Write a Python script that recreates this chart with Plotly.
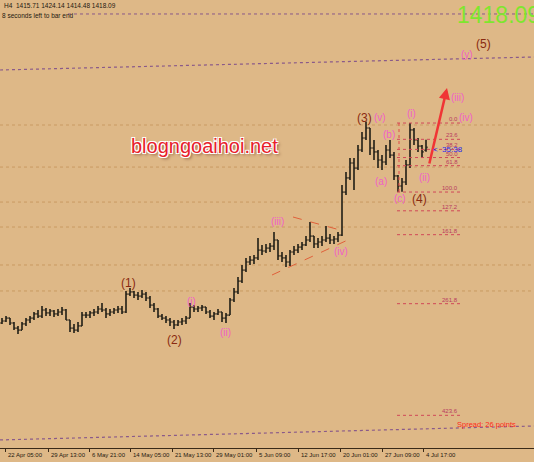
import plotly.graph_objects as go

# ---------------- data (H4 gold, aggregated bars) ----------------
header_o, header_h, header_l, header_c = 1415.71, 1424.14, 1414.48, 1418.09

highs = [1280.0,1281.6,1280.0,1276.8,1273.6,1276.8,1280.0,1281.6,1284.9,1286.5,
         1289.7,1288.1,1287.3,1286.5,1287.3,1288.9,1287.3,1278.4,1275.2,1276.8,
         1284.9,1284.9,1285.7,1287.3,1289.7,1292.2,1288.1,1287.3,1288.1,1289.7,
         1289.7,1301.9,1304.3,1301.9,1301.1,1302.7,1301.1,1297.8,1292.2,1288.1,
         1283.3,1281.6,1280.0,1278.4,1278.4,1280.0,1281.6,1292.2,1290.5,1289.7,
         1290.5,1288.9,1286.5,1284.9,1287.3,1284.9,1284.1,1296.2,1304.3,1313.2,
         1322.9,1328.6,1330.2,1331.0,1344.7,1339.1,1339.9,1340.7,1349.6,1343.1,
         1333.4,1331.0,1335.0,1338.2,1339.9,1341.5,1346.3,1357.7,1346.3,1344.7,
         1346.3,1354.4,1348.0,1346.3,1349.6,1387.6,1398.1,1409.4,1409.4,1419.9,
         1430.4,1439.0,1433.7,1424.0,1415.9,1411.8,1419.9,1424.0,1414.3,1395.7,
         1393.3,1407.8,1437.7,1433.7,1425.6,1419.9,header_h]
lows = [1275.2,1276.8,1274.4,1270.3,1267.1,1270.3,1273.6,1276.0,1278.4,1280.0,
        1280.0,1281.6,1281.6,1280.8,1281.6,1282.4,1278.4,1268.7,1267.9,1268.7,
        1273.6,1280.0,1280.0,1281.6,1283.3,1284.9,1280.0,1281.6,1283.3,1284.1,
        1283.3,1284.1,1297.8,1296.2,1294.6,1296.2,1293.8,1288.1,1284.9,1280.0,
        1278.4,1276.0,1273.6,1271.1,1273.6,1274.4,1275.2,1280.0,1284.9,1284.9,
        1285.7,1283.3,1280.0,1278.4,1282.4,1276.8,1276.0,1282.4,1293.0,1299.4,
        1308.3,1317.2,1322.9,1323.7,1326.9,1331.0,1332.6,1333.4,1335.0,1326.9,
        1325.3,1321.3,1322.1,1331.0,1332.6,1335.0,1338.2,1341.5,1336.6,1336.6,
        1338.2,1341.5,1339.9,1339.9,1341.5,1346.3,1379.5,1391.6,1383.5,1399.7,
        1414.3,1424.0,1411.8,1407.8,1401.3,1399.7,1403.8,1409.4,1391.6,1381.9,
        1382.2,1387.6,1401.3,1419.9,1414.3,1409.4,header_l]
closes = [1277.6,1280.0,1276.0,1271.9,1270.3,1275.2,1278.4,1280.0,1283.3,1281.6,
          1286.5,1284.1,1285.7,1283.3,1284.9,1286.5,1278.4,1271.9,1270.3,1273.6,
          1282.4,1282.4,1284.1,1284.9,1287.3,1286.5,1283.3,1284.9,1286.5,1287.3,
          1284.9,1299.4,1301.1,1298.6,1297.8,1299.4,1296.2,1290.5,1287.3,1281.6,
          1280.0,1278.4,1276.8,1274.4,1276.8,1277.6,1280.0,1288.9,1287.3,1288.1,
          1288.9,1284.9,1281.6,1283.3,1284.9,1280.0,1282.4,1294.6,1301.1,1309.9,
          1318.8,1325.3,1326.9,1328.6,1335.0,1334.2,1336.6,1338.2,1343.1,1330.2,
          1328.6,1325.3,1333.4,1335.0,1337.4,1339.1,1343.1,1346.3,1339.9,1341.5,
          1343.1,1344.7,1343.1,1343.9,1347.1,1381.9,1393.3,1405.4,1401.3,1415.9,
          1425.6,1433.7,1417.5,1414.3,1407.8,1406.2,1415.9,1411.8,1394.9,1386.8,
          1390.0,1403.8,1432.1,1424.0,1419.1,1414.3,header_c]
first_open = 1276.0
opens = [first_open] + closes[:-2] + [header_o]
bars = list(range(len(closes)))

tick_pos = [0.75, 11.5, 21.75, 32, 42.5, 52.75, 63.5, 74, 84.5, 95, 105.25]
tick_labels = ["22 Apr 05:00", "29 Apr 13:00", "6 May 21:00", "14 May 05:00",
               "21 May 13:00", "29 May 01:00", "5 Jun 09:00", "12 Jun 17:00",
               "20 Jun 01:00", "27 Jun 09:00", "4 Jul 17:00"]

# Fibonacci retracement (wave (4) low -> (i) high)
fib_high, fib_low = 1437.7, 1381.9
fib_levels = [0.0, 23.6, 38.2, 50.0, 61.8, 100.0, 127.2, 161.8, 261.8, 423.6]
fib_x0, fib_x1 = 98.75, 114.5

# horizontal drawn levels
hlines = [1436.1, 1402.1, 1373.8, 1353.6, 1322.9, 1301.9]

# wave labels: text, bar, price, degree
waves = [("(1)", 31.5, 1308.3, "major"), ("(2)", 43.0, 1262.2, "major"),
         ("(3)", 90.5, 1441.8, "major"), ("(4)", 104.25, 1376.3, "major"),
         ("(5)", 120.25, 1501.6, "major"),
         ("(i)", 47.25, 1293.0, "minor"), ("(ii)", 55.75, 1268.7, "minor"),
         ("(iii)", 68.75, 1357.7, "minor"), ("(iv)", 84.75, 1334.2, "minor"),
         ("(v)", 94.5, 1441.8, "minor"), ("(a)", 94.75, 1390.8, "minor"),
         ("(b)", 96.75, 1428.8, "minor"), ("(c)", 99.5, 1376.3, "minor"),
         ("(i)", 102.25, 1445.8, "minor"), ("(ii)", 105.5, 1393.3, "minor"),
         ("(iii)", 113.75, 1458.7, "minor"), ("(iv)", 116.0, 1441.8, "minor"),
         ("(y)", 116.25, 1492.8, "minor")]

# ---------------- figure ----------------
BG = "#DEB887"
BAR = "#2c271d"
FONT = "Liberation Sans"

fig = go.Figure()
fig.add_trace(go.Ohlc(x=bars, open=opens, high=highs, low=lows, close=closes,
                      increasing=dict(line=dict(color=BAR, width=1.7)),
                      decreasing=dict(line=dict(color=BAR, width=1.7)),
                      tickwidth=0.4, hoverinfo="skip", showlegend=False))

shapes = []
for h in hlines:
    shapes.append(dict(type="line", xref="paper", x0=0, x1=1, yref="y", y0=h, y1=h,
                       line=dict(color="#c99a62", width=1, dash="dot"), layer="below"))
# channel lines
shapes.append(dict(type="line", x0=-0.5, y0=1480.6, x1=133, y1=1491.1,
                   line=dict(color="#8a5a8a", width=1.2, dash="dot")))
shapes.append(dict(type="line", x0=-0.5, y0=1181.4, x1=133, y1=1192.7,
                   line=dict(color="#8a5a8a", width=1.2, dash="dot")))
# bar-end line at top
shapes.append(dict(type="line", x0=16.5, y0=1525.9, x1=133, y1=1525.9,
                   line=dict(color="#8a5a8a", width=1, dash="dot")))
# triangle
shapes.append(dict(type="line", x0=72.75, y0=1361.7, x1=84.5, y1=1351.2,
                   line=dict(color="#e0603a", width=1, dash="dash")))
shapes.append(dict(type="line", x0=67.5, y0=1314.8, x1=87.5, y1=1344.7,
                   line=dict(color="#e0603a", width=1, dash="dash")))
# fibonacci
rng = fib_high - fib_low
for lv in fib_levels:
    p = fib_high - rng * lv / 100.0
    shapes.append(dict(type="line", x0=fib_x0, x1=fib_x1, y0=p, y1=p,
                       line=dict(color="#d04858", width=1, dash="dot")))
shapes.append(dict(type="line", x0=fib_x0 + 0.5, x1=fib_x0 + 0.5, y0=fib_low, y1=fib_high,
                   line=dict(color="#e04848", width=1, dash="dot")))

ann = []
for lv in fib_levels:
    p = fib_high - rng * lv / 100.0
    ann.append(dict(x=fib_x1, y=p, text=f"{lv:.1f}", showarrow=False, xanchor="right",
                    yanchor="bottom", yshift=-1, font=dict(family=FONT, size=6, color="#b83a60")))
for t, bx, py, kind in waves:
    if kind == "major":
        f = dict(family=FONT, size=12, color="#8a2a10")
    else:
        f = dict(family=FONT, size=10, color="#f060c8")
    ann.append(dict(x=bx, y=py, text=t, showarrow=False, font=f))
# arrow
ann.append(dict(x=111.25, y=1466.0, ax=106.75, ay=1403.8, axref="x", ayref="y",
                text="", showarrow=True, arrowhead=2, arrowsize=0.9, arrowwidth=2.5,
                arrowcolor="#f03535"))
# watermark
ann.append(dict(x=50.5, y=1419.1, text="blogngoaihoi.net", showarrow=False,
                font=dict(family=FONT, size=20, color="#e8202a",
                          shadow="1px 1px 0 #fff, -1px -1px 0 #fff, 1px -1px 0 #fff, -1px 1px 0 #fff, 2px 2px 3px #8a5a40")))
# countdown
ann.append(dict(x=107.25, y=1415.9, text="<  35:38", showarrow=False, xanchor="left",
                font=dict(family=FONT, size=8, color="#2828f0")))
# header
ann.append(dict(xref="paper", yref="paper", x=2 / 534, y=1 - 6 / 448, xanchor="left",
                yanchor="middle",
                text=f"H4  {header_o:.2f} {header_h:.2f} {header_l:.2f} {header_c:.2f}",
                showarrow=False, font=dict(family=FONT, size=6.5, color="#1e1810")))
ann.append(dict(xref="paper", yref="paper", x=0, y=1 - 15 / 448, xanchor="left",
                yanchor="middle", text="8 seconds left to bar end", showarrow=False,
                font=dict(family=FONT, size=6.5, color="#1e1810")))
ann.append(dict(xref="paper", yref="paper", x=455 / 534, y=1 - 15 / 448, xanchor="left",
                yanchor="middle", text=f"{header_c:.2f}", showarrow=False,
                font=dict(family=FONT, size=23, color="#7ee62e")))
ann.append(dict(xref="paper", yref="paper", x=455 / 534, y=1 - 424 / 448, xanchor="left",
                yanchor="middle", text="Spread: 26 points", showarrow=False,
                font=dict(family=FONT, size=7.5, color="#ff2a1a")))
# time axis labels
for tp, tl in zip(tick_pos, tick_labels):
    ann.append(dict(x=tp, yref="paper", y=0, text=tl, showarrow=False, xanchor="left",
                    yanchor="top", xshift=1, yshift=-2,
                    font=dict(family=FONT, size=6, color="#1e1810")))

fig.update_layout(
    width=534, height=462, margin=dict(l=0, r=0, t=0, b=14),
    paper_bgcolor=BG, plot_bgcolor=BG, shapes=shapes, annotations=ann,
    xaxis=dict(range=[-0.5, 133.0], showgrid=False, zeroline=False, showline=True,
               linecolor="#3a2a18", linewidth=1, mirror=True, ticks="outside", ticklen=3,
               tickcolor="#3a2a18", tickvals=tick_pos, showticklabels=False,
               rangeslider=dict(visible=False), fixedrange=True),
    yaxis=dict(range=[1174.9, 1537.2], showgrid=False, zeroline=False,
               showticklabels=False, fixedrange=True),
)
fig.write_html("out.html", config={"displayModeBar": False},
               post_script="document.body.style.margin='0';document.body.style.overflow='hidden';")
